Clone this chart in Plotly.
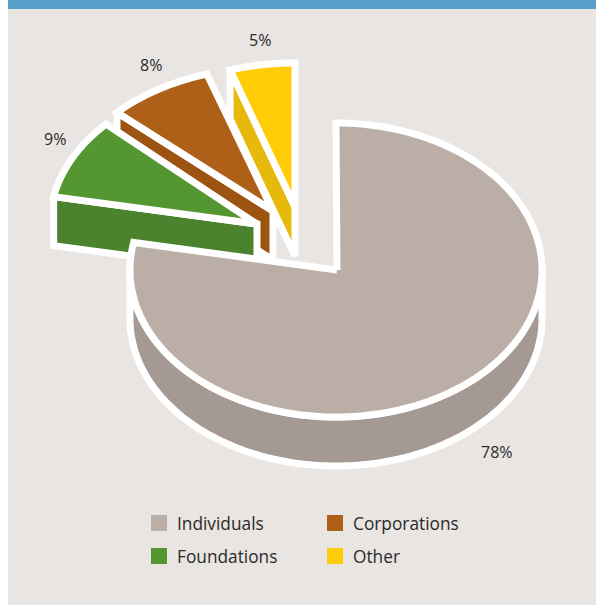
import numpy as np
import plotly.graph_objects as go

categories = ["Individuals", "Foundations", "Corporations", "Other"]
values = [78, 9, 8, 5]
labels = ["78%", "9%", "8%", "5%"]

top_colors = ["#baaea6", "#549631", "#ae6018", "#ffcc05"]
wall_colors = ["#a59a93", "#4a822d", "#9c5410", "#e6b90b"]
PANEL = "#e9e5e2"
BAR = "#559fc9"
INK = "#2b2a2a"
FONT = "Open Sans"

# pie geometry, in the pixel units of the axes
apex_x = [337, 257, 273, 295]
apex_y = [270, 224, 211, 207]
radius_x = [206, 207, 214, 210]
radius_y = [147, 146, 144, 144]
center_x = [336, 257, 273, 295]
DEPTH, STROKE = 49, 7
label_x = [497, 55, 151, 260]
label_y = [452, 139, 65, 40]
swatch_x = [159, 159, 335, 335]
swatch_y = [523, 556, 523, 556]
legend_text_x = [175, 175, 351, 351]
legend_text_y = [523, 556, 523, 556]

fig = go.Figure()


def poly(xs, ys, color):
    fig.add_trace(go.Scatter(
        x=xs, y=ys, mode="lines", fill="toself", fillcolor=color,
        line=dict(color="white", width=STROKE, simplify=False),
        hoverinfo="skip", showlegend=False,
    ))


def arc(i, a0, a1):
    t = np.radians(np.linspace(a0, a1, 160))
    return center_x[i] + radius_x[i] * np.sin(t), apex_y[i] - radius_y[i] * np.cos(t)


# angles run clockwise from twelve o'clock, in data order
edges = np.concatenate([[0], np.cumsum(values)]) / np.sum(values) * 360

# exploded wedges, back to front
for i in [3, 2, 1]:
    ax, ay = apex_x[i], apex_y[i]
    xs, ys = arc(i, edges[i], edges[i + 1])
    # wall below the wedge's left-hand radial edge
    poly([xs[0], ax, ax, xs[0], xs[0]],
         [ys[0], ay, ay + DEPTH, ys[0] + DEPTH, ys[0]], wall_colors[i])
    poly(np.r_[ax, xs, ax], np.r_[ay, ys, ay], top_colors[i])

# large slice: rim then top face
ax, ay = apex_x[0], apex_y[0]
xs, ys = arc(0, 90, 270)
poly(np.r_[xs, xs[::-1], xs[0]], np.r_[ys + DEPTH, ys[::-1], ys[0] + DEPTH], wall_colors[0])
xs, ys = arc(0, edges[0], edges[1])
poly(np.r_[ax, xs, ax], np.r_[ay, ys, ay], top_colors[0])

# legend swatches
for i, name in enumerate(categories):
    fig.add_trace(go.Scatter(
        x=[swatch_x[i]], y=[swatch_y[i]], mode="markers", name=name,
        marker=dict(symbol="square", size=16, color=top_colors[i], line=dict(width=0)),
        showlegend=False, hoverinfo="name",
    ))
    fig.add_annotation(x=legend_text_x[i], y=legend_text_y[i], text=name, showarrow=False,
                       xanchor="left", yanchor="middle",
                       font=dict(family=FONT, size=17.3, color=INK))
    fig.add_annotation(x=label_x[i], y=label_y[i], text=labels[i], showarrow=False,
                       xanchor="center", yanchor="middle",
                       font=dict(family=FONT, size=16, color=INK))

fig.update_layout(
    width=596, height=605, margin=dict(l=0, r=0, t=0, b=0),
    paper_bgcolor="white", plot_bgcolor="white", showlegend=False,
    xaxis=dict(range=[0, 596], visible=False, fixedrange=True),
    yaxis=dict(range=[605, 0], visible=False, fixedrange=True),
    shapes=[
        dict(type="rect", xref="x", yref="y", x0=8, x1=596, y0=0, y1=605,
             fillcolor=PANEL, line_width=0, layer="below"),
        dict(type="rect", xref="x", yref="y", x0=8, x1=596, y0=0, y1=9,
             fillcolor=BAR, line_width=0, layer="below"),
    ],
)
fig.write_html("out.html", config=dict(displayModeBar=False),
               post_script="document.body.style.margin='0';")
